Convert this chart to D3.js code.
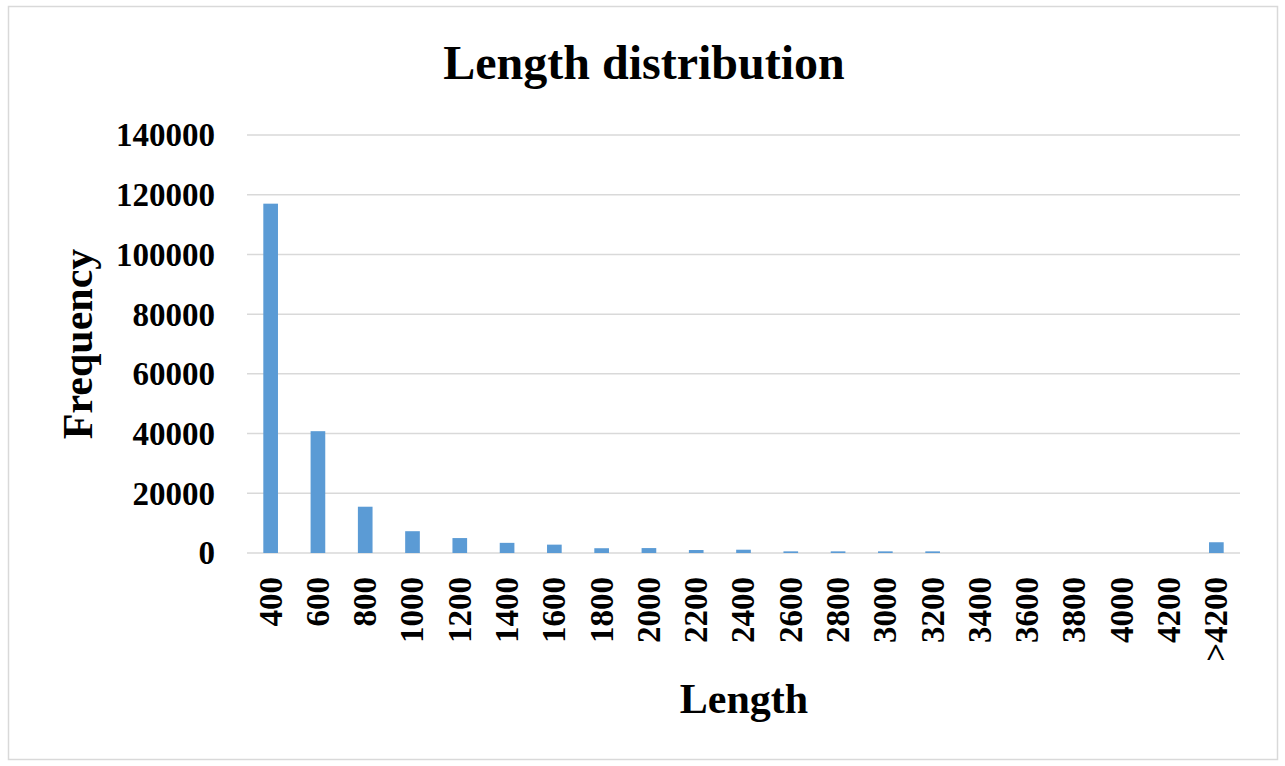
<!DOCTYPE html>
<html>
<head>
<meta charset="utf-8">
<script src="https://cdn.jsdelivr.net/npm/d3@7"></script>
<style>
	body { margin: 0; background: #fff; }
	text { font-family: "Liberation Serif", "Times New Roman", serif; font-weight: bold; fill: #000; }
</style>
</head>
<body>
<svg id="chart" width="1285" height="766"></svg>
<script>
// bins
var lengths = ["400", "600", "800", "1000", "1200", "1400", "1600", "1800", "2000", "2200",
	"2400", "2600", "2800", "3000", "3200", "3400", "3600", "3800", "4000", "4200", ">4200"]
var counts = [117000, 40800, 15500, 7300, 5000, 3400, 2800, 1600, 1650, 1000,
	1100, 550, 550, 550, 550, 0, 0, 0, 0, 0, 3600]
var yTicks = [0, 20000, 40000, 60000, 80000, 100000, 120000, 140000]

var svg = d3.select("#chart")
var margin = {top: 135, right: 45, bottom: 213, left: 247}
var width = 1285 - margin.left - margin.right
var height = 766 - margin.top - margin.bottom

// outer frame
svg.append("rect")
	.attr("x", 8.5).attr("y", 6.5)
	.attr("width", 1269).attr("height", 753)
	.attr("fill", "none").attr("stroke", "#d9d9d9").attr("stroke-width", 1.5)

var g = svg.append("g").attr("transform", "translate(" + margin.left + "," + margin.top + ")")

var x = d3.scaleBand().domain(lengths).range([0, width]).paddingInner(0.69).paddingOuter(0.345)
var y = d3.scaleLinear().domain([0, 140000]).range([height, 0])

// grid
g.append("g").selectAll("line").data(yTicks).join("line")
	.attr("x1", 0).attr("x2", width)
	.attr("y1", function(d) { return y(d) }).attr("y2", function(d) { return y(d) })
	.attr("stroke", "#d9d9d9").attr("stroke-width", 1.5)

// y axis labels
var yAxis = g.append("g").attr("transform", "translate(-32,0)")
	.call(d3.axisLeft(y).tickValues(yTicks).tickSize(0).tickPadding(0).tickFormat(d3.format("d")))
yAxis.select(".domain").remove()
yAxis.selectAll("text").attr("font-size", 33).attr("dy", "0.33em")
	.style("font-family", "'Liberation Serif', 'Times New Roman', serif").style("font-weight", "bold")

// bars
g.append("g").selectAll("rect").data(counts).join("rect")
	.attr("x", function(d, i) { return x(lengths[i]) })
	.attr("width", x.bandwidth())
	.attr("y", function(d) { return y(d) })
	.attr("height", function(d) { return height - y(d) })
	.attr("fill", "#5b9bd5")

// x axis labels
var xAxis = g.append("g").attr("transform", "translate(0," + height + ")")
	.call(d3.axisBottom(x).tickSize(0).tickPadding(0))
xAxis.select(".domain").remove()
xAxis.selectAll("text")
	.attr("font-size", 33)
	.attr("text-anchor", "end")
	.attr("transform", "translate(0,24) rotate(-90)")
	.attr("x", 0).attr("y", 0).attr("dy", "0.33em")
	.style("font-family", "'Liberation Serif', 'Times New Roman', serif").style("font-weight", "bold")

// titles
svg.append("text").attr("x", 644).attr("y", 79)
	.attr("text-anchor", "middle").attr("font-size", 48)
	.text("Length distribution")

svg.append("text").attr("x", 744).attr("y", 713)
	.attr("text-anchor", "middle").attr("font-size", 42)
	.text("Length")

svg.append("text").attr("transform", "translate(92,344) rotate(-90)")
	.attr("text-anchor", "middle").attr("font-size", 42)
	.text("Frequency")
</script>
</body>
</html>
